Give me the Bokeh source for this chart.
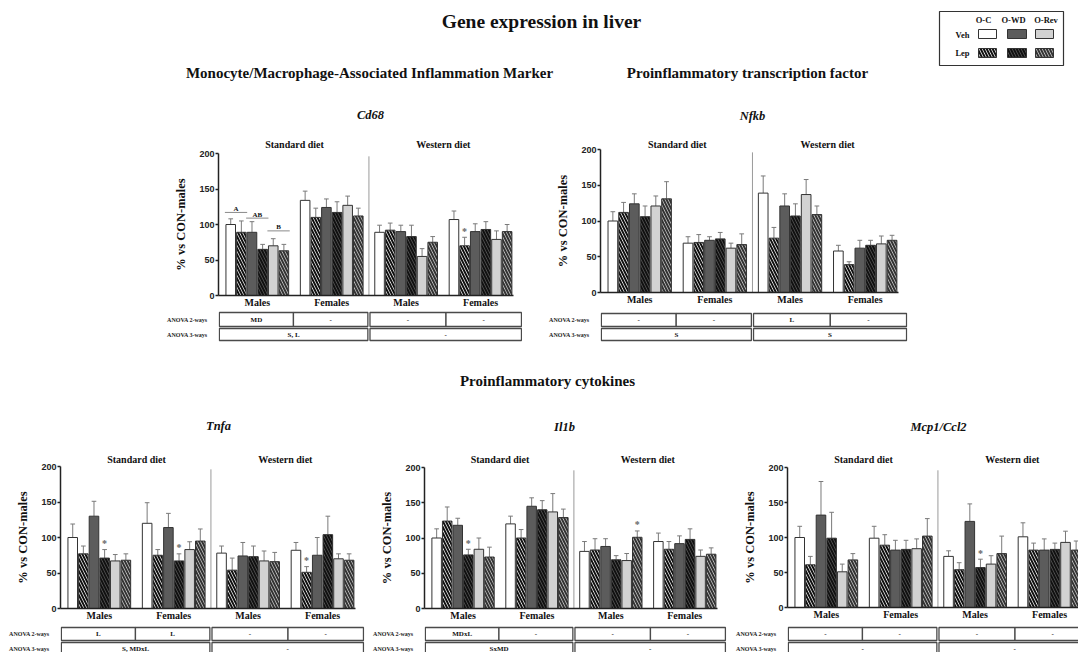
from bokeh.plotting import figure
from bokeh.layouts import row, column
from bokeh.models import Range1d, FixedTicker, Spacer, ColumnDataSource, LinearAxis
from bokeh.core.properties import value
from bokeh.embed import file_html
from bokeh.resources import INLINE

SERIF = "Liberation Serif"
SANS = "Liberation Sans"

# ---------------- data ----------------
sexes = ["Males", "Females", "Males", "Females"]
diets = ["Standard diet", "Western diet"]
strains = ["O-C", "O-WD", "O-Rev"]
treatments = ["Veh", "Lep"]
anova_rows = ["ANOVA 2-ways", "ANOVA 3-ways"]
y_ticks = [0, 50, 100, 150, 200]

# bar order inside each sex/diet group: O-C Veh, O-C Lep, O-WD Veh, O-WD Lep, O-Rev Veh, O-Rev Lep
# groups: SD Males, SD Females, WD Males, WD Females
cd68_mean = [100, 89, 89, 65, 70, 63,   134, 110, 124, 117, 127, 112,
             89, 92, 90, 83, 55, 75,    107, 70, 90, 93, 79, 90]
cd68_sem = [8, 16, 15, 7, 10, 9,        13, 13, 12, 15, 13, 11,
            10, 10, 9, 16, 11, 8,       12, 12, 11, 11, 12, 10]
cd68_stars = [19]
cd68_anova2 = ["MD", "-", "-", "-"]
cd68_anova3 = ["S, L", "-"]
cd68_letters = ["A", "AB", "B"]
cd68_letter_y = [117, 109, 91]
cd68_letter_bars = [(0, 1), (2, 3), (4, 5)]

nfkb_mean = [100, 112, 124, 106, 121, 131,  69, 70, 73, 75, 62, 67,
             139, 76, 121, 107, 137, 109,   58, 39, 62, 66, 68, 73]
nfkb_sem = [13, 14, 14, 15, 14, 24,    9, 11, 5, 9, 7, 15,
            24, 15, 17, 17, 21, 12,    8, 4, 11, 7, 11, 7]
nfkb_stars = []
nfkb_anova2 = ["-", "-", "L", "-"]
nfkb_anova3 = ["S", "S"]

tnfa_mean = [100, 77, 130, 71, 67, 68,   120, 75, 114, 67, 83, 95,
             78, 54, 74, 73, 67, 66,     82, 51, 75, 104, 70, 68]
tnfa_sem = [19, 11, 21, 12, 9, 9,       29, 8, 20, 10, 11, 17,
            10, 17, 19, 15, 14, 13,     11, 8, 25, 26, 7, 9]
tnfa_stars = [3, 9, 19]
tnfa_anova2 = ["L", "L", "-", "-"]
tnfa_anova3 = ["S, MDxL", "-"]

il1b_mean = [100, 124, 118, 76, 84, 73,   120, 100, 145, 140, 137, 129,
             81, 83, 88, 69, 68, 101,     95, 84, 92, 98, 74, 77]
il1b_sem = [13, 20, 10, 8, 16, 14,       11, 12, 12, 13, 26, 12,
            14, 16, 11, 6, 10, 9,        12, 11, 11, 15, 9, 9]
il1b_stars = [3, 17]
il1b_anova2 = ["MDxL", "-", "-", "-"]
il1b_anova3 = ["SxMD", "-"]

mcp1_mean = [100, 61, 132, 99, 51, 68,   99, 89, 82, 83, 84, 102,
             73, 54, 123, 57, 62, 77,    101, 82, 82, 83, 93, 82]
mcp1_sem = [16, 12, 48, 37, 11, 9,      17, 15, 14, 13, 14, 25,
            8, 10, 25, 12, 12, 25,      20, 10, 16, 9, 16, 13]
mcp1_stars = [15]
mcp1_anova2 = ["-", "-", "-", "-"]
mcp1_anova3 = ["-", "-"]

# ---------------- styling ----------------
WHITE, DARK, LIGHT = "#ffffff", "#5c5c5c", "#d2d2d2"
bar_fill = [WHITE, WHITE, DARK, DARK, LIGHT, LIGHT]
bar_hatch = [False, True, False, True, False, True]
hatch_col = ["#111111", "#111111", "#111111", "#111111", "#333333", "#333333"]
X0, X1, XE = -0.65, 27.1, 27.95
BB = 14    # bottom border of chart (category labels)


def txt(p, x, y, t, size, style="bold", align="center", font=SERIF, color="#111111", baseline="middle"):
    p.text(x=x, y=y, text=t, text_font=value(font), text_font_style=style,
           text_font_size=size, text_align=align, text_baseline=baseline, text_color=color)


def geometry(lay):
    L, W, tw = lay["L"], lay["W"], lay["tw"]
    scale = W / (X1 - X0)
    Wf = min(int(round((XE - X0) * scale)), tw - L)
    R = tw - L - Wf
    xend = X0 + Wf / scale
    return L, Wf, R, scale, xend


def top_border(lay):
    return (lay["y200"] - lay["diet"]) + 8


def heading(lay, gene):
    L, Wf, R, scale, xend = geometry(lay)
    top = lay["top"]
    hh = lay["y200"] - top_border(lay) - top
    f = figure(width=L + Wf + R, height=hh,
               x_range=Range1d(X0, xend), y_range=Range1d(hh, 0),
               output_backend="svg", toolbar_location=None, title=None,
               x_axis_location=None, y_axis_location=None,
               min_border_left=L, min_border_right=R, min_border_top=0, min_border_bottom=0)
    f.outline_line_color = None
    f.grid.grid_line_color = None
    axis_x = lay["left"] + L
    tx = (lay["title"][0] - axis_x) / scale + X0
    txt(f, [tx], [lay["title"][1] - top], [gene], "12.5px", style="bold italic")
    return f


def chart(lay, mean, sem, stars, letters=None, letter_y=None, letter_bars=None):
    L, Wf, R, scale, xend = geometry(lay)
    TB = top_border(lay)
    p = figure(width=L + Wf + R, height=lay["y0"] - lay["y200"] + TB + BB,
               x_range=Range1d(X0, xend), y_range=Range1d(0, 200),
               output_backend="svg", toolbar_location=None, title=None,
               min_border_left=L, min_border_right=R, min_border_top=TB, min_border_bottom=BB)
    p.outline_line_color = None
    p.xgrid.visible = False
    p.ygrid.visible = False

    xa = p.xaxis[0]
    centers = [g * 7 + 3 for g in range(4)]
    xa.ticker = FixedTicker(ticks=centers)
    xa.major_label_overrides = {c: sexes[g] for g, c in enumerate(centers)}
    xa.bounds = (X0, X1)
    xa.major_tick_line_color = None
    xa.minor_tick_line_color = None
    xa.major_tick_out = 0
    xa.major_tick_in = 0
    xa.axis_line_color = "#222222"
    xa.axis_line_width = 1.5
    xa.major_label_text_font = SERIF
    xa.major_label_text_font_style = "bold"
    xa.major_label_text_font_size = "10px"
    xa.major_label_text_color = "#111111"
    xa.major_label_standoff = 1

    # diet headers as a label-only axis above the frame
    diet_ticks = [6.5, 20.5]
    ta = LinearAxis(ticker=FixedTicker(ticks=diet_ticks),
                    major_label_overrides={diet_ticks[0]: diets[0], diet_ticks[1]: diets[1]},
                    axis_line_color=None, major_tick_line_color=None, minor_tick_line_color=None,
                    major_tick_out=0, major_tick_in=0,
                    major_label_standoff=max(0, (lay["y200"] - lay["diet"]) - 8),
                    major_label_text_font=SERIF, major_label_text_font_style="bold",
                    major_label_text_font_size="10px", major_label_text_color="#111111")
    p.add_layout(ta, "above")

    ya = p.yaxis[0]
    ya.ticker = FixedTicker(ticks=y_ticks)
    ya.bounds = (0, 200)
    ya.minor_tick_line_color = None
    ya.major_tick_out = 3
    ya.major_tick_in = 0
    ya.major_tick_line_color = "#222222"
    ya.major_tick_line_width = 1.5
    ya.axis_line_color = "#222222"
    ya.axis_line_width = 1.5
    ya.major_label_standoff = 1
    ya.major_label_text_font = SANS
    ya.major_label_text_font_style = "bold"
    ya.major_label_text_font_size = "9px"
    ya.major_label_text_color = "#222222"
    ya.axis_label = "% vs CON-males"
    ya.axis_label_text_font = SERIF
    ya.axis_label_text_font_style = "bold"
    ya.axis_label_text_font_size = "12.5px"
    ya.axis_label_text_color = "#111111"
    ya.axis_label_standoff = 8

    xs = [(i // 6) * 7 + i % 6 + 0.5 for i in range(24)]
    err = [m + e for m, e in zip(mean, sem)]
    plain = [i for i in range(24) if not bar_hatch[i % 6]]
    hat = [i for i in range(24) if bar_hatch[i % 6]]

    # separator between diets
    p.segment(x0=[13.5], y0=[0], x1=[13.5], y1=[196], line_color="#9a9a9a", line_width=1)

    # error bars (upper only)
    esrc = ColumnDataSource(dict(x=xs, top=mean, err=err,
                                 xl=[x - 0.22 for x in xs], xr=[x + 0.22 for x in xs]))
    p.segment(x0="x", y0="top", x1="x", y1="err", source=esrc, line_color="#7a7a7a", line_width=1)
    p.segment(x0="xl", y0="err", x1="xr", y1="err", source=esrc, line_color="#7a7a7a", line_width=1)

    src_p = ColumnDataSource(dict(x=[xs[i] for i in plain], top=[mean[i] for i in plain],
                                  fill=[bar_fill[i % 6] for i in plain]))
    p.vbar(x="x", top="top", bottom=0, width=0.9, fill_color="fill", line_color="#333333",
           line_width=1, source=src_p)
    src_h = ColumnDataSource(dict(x=[xs[i] for i in hat], top=[mean[i] for i in hat],
                                  fill=[bar_fill[i % 6] for i in hat],
                                  hc=[hatch_col[i % 6] for i in hat]))
    p.vbar(x="x", top="top", bottom=0, width=0.9, fill_color="fill", line_color="#333333",
           line_width=1, hatch_pattern="\\", hatch_color="hc", hatch_scale=6, hatch_weight=2,
           source=src_h)

    # significance stars
    if stars:
        txt(p, [xs[i] for i in stars], [err[i] + 1 for i in stars], ["*"] * len(stars),
            "10px", color="#666666", baseline="bottom")

    # letters
    if letters:
        p.segment(x0=[a - 0.05 for a, b in letter_bars], x1=[b + 1.05 for a, b in letter_bars],
                  y0=letter_y, y1=letter_y, line_color="#8a8a8a", line_width=1)
        txt(p, [(a + b + 1) / 2 for a, b in letter_bars], [y + 5 for y in letter_y], letters, "7px")
    return p


def table(lay, a2, a3):
    L, Wf, R, scale, xend = geometry(lay)
    tt = lay["y0"] + BB
    th = lay["bottom"] - tt
    t = figure(width=L + Wf + R, height=th,
               x_range=Range1d(X0, xend), y_range=Range1d(th, 0),
               output_backend="svg", toolbar_location=None, title=None,
               x_axis_location=None,
               min_border_left=L, min_border_right=R, min_border_top=0, min_border_bottom=0)
    t.outline_line_color = None
    t.grid.grid_line_color = None
    r2t, r2b = lay["r2"][0] - tt, lay["r2"][1] - tt
    r3t, r3b = lay["r3"][0] - tt, lay["r3"][1] - tt
    yc = [(r2t + r2b) / 2, (r3t + r3b) / 2]

    ya = t.yaxis[0]
    ya.ticker = FixedTicker(ticks=yc)
    ya.major_label_overrides = {yc[0]: anova_rows[0], yc[1]: anova_rows[1]}
    ya.axis_line_color = None
    ya.major_tick_line_color = None
    ya.minor_tick_line_color = None
    ya.major_tick_out = 0
    ya.major_tick_in = 0
    ya.major_label_standoff = 11
    ya.major_label_text_font = SERIF
    ya.major_label_text_font_style = "bold"
    ya.major_label_text_font_size = "6px"
    ya.major_label_text_color = "#222222"

    l2 = [-0.57, 6.4, 13.6, 20.75]
    rr2 = [6.4, 13.4, 20.75, 27.85]
    t.quad(left=l2, right=rr2, top=[r2t] * 4, bottom=[r2b] * 4, fill_color="white",
           line_color="#4a4a4a", line_width=1.3)
    l3 = [-0.57, 13.6]
    rr3 = [13.4, 27.85]
    t.quad(left=l3, right=rr3, top=[r3t] * 2, bottom=[r3b] * 2, fill_color="white",
           line_color="#4a4a4a", line_width=1.3)
    txt(t, [(a + b) / 2 for a, b in zip(l2, rr2)], [yc[0]] * 4, a2, "7px")
    txt(t, [(a + b) / 2 for a, b in zip(l3, rr3)], [yc[1]] * 2, a3, "7px")
    return t


def panel(lay, gene, mean, sem, stars, a2, a3, **kw):
    hd = heading(lay, gene)
    p = chart(lay, mean, sem, stars, **kw)
    t = table(lay, a2, a3)
    return column(hd, p, t)


lay_cd68 = dict(left=150, tw=372, L=68, W=295, top=100, y0=296, y200=153, title=(370, 114),
                diet=141, r2=(312, 326), r3=(328, 340), bottom=345)
lay_nfkb = dict(left=532, tw=378, L=68, W=298, top=100, y0=293, y200=149, title=(752, 115),
                diet=141, r2=(313, 326), r3=(328, 340), bottom=345)
lay_tnfa = dict(left=0, tw=365, L=60, W=295, top=400, y0=609, y200=466, title=(218, 425),
                diet=456, r2=(627, 640), r3=(642, 655), bottom=652)
lay_il1b = dict(left=365, tw=365, L=59, W=293, top=400, y0=609, y200=467, title=(564, 426),
                diet=456, r2=(627, 640), r3=(642, 655), bottom=652)
lay_mcp1 = dict(left=730, tw=348, L=57, W=295, top=400, y0=608, y200=467,
                title=(938, 426), diet=456, r2=(627, 640), r3=(642, 655), bottom=652)

c_cd68 = panel(lay_cd68, "Cd68", cd68_mean, cd68_sem, cd68_stars, cd68_anova2, cd68_anova3,
               letters=cd68_letters, letter_y=cd68_letter_y, letter_bars=cd68_letter_bars)
c_nfkb = panel(lay_nfkb, "Nfkb", nfkb_mean, nfkb_sem, nfkb_stars, nfkb_anova2, nfkb_anova3)
c_tnfa = panel(lay_tnfa, "Tnfa", tnfa_mean, tnfa_sem, tnfa_stars, tnfa_anova2, tnfa_anova3)
c_il1b = panel(lay_il1b, "Il1b", il1b_mean, il1b_sem, il1b_stars, il1b_anova2, il1b_anova3)
c_mcp1 = panel(lay_mcp1, "Mcp1/Ccl2", mcp1_mean, mcp1_sem, mcp1_stars, mcp1_anova2, mcp1_anova3)

# ---------------- header ----------------
h = figure(width=1078, height=100, x_range=Range1d(0, 1078), y_range=Range1d(100, 0),
           output_backend="svg", toolbar_location=None, title=None,
           x_axis_location=None, y_axis_location=None, min_border=0)
h.outline_line_color = None
h.grid.grid_line_color = None
txt(h, [541], [21], ["Gene expression in liver"], "19.5px")
txt(h, [369, 747], [72, 72], ["Monocyte/Macrophage-Associated Inflammation Marker",
                              "Proinflammatory transcription factor"], "15px")
# legend
h.quad(left=[939], right=[1063], top=[11], bottom=[65], fill_color="white",
       line_color="#333333", line_width=1.2)
sw_l = [978, 1007, 1035]
sw_r = [996, 1026, 1053]
txt(h, [983, 1013, 1045.5], [19.5] * 3, strains, "8.5px")
txt(h, [962, 962], [34, 52.5], treatments, "8.5px")
h.quad(left=sw_l, right=sw_r, top=[29] * 3, bottom=[38] * 3,
       fill_color=[WHITE, DARK, LIGHT], line_color="#333333", line_width=1)
h.quad(left=sw_l, right=sw_r, top=[48] * 3, bottom=[57] * 3,
       fill_color=[WHITE, DARK, LIGHT], line_color="#333333", line_width=1,
       hatch_pattern="\\", hatch_color=["#111111", "#111111", "#333333"],
       hatch_scale=6, hatch_weight=2)

mid = figure(width=1078, height=55, x_range=Range1d(0, 1078), y_range=Range1d(55, 0),
             output_backend="svg", toolbar_location=None, title=None,
             x_axis_location=None, y_axis_location=None, min_border=0)
mid.outline_line_color = None
mid.grid.grid_line_color = None
txt(mid, [547], [35], ["Proinflammatory cytokines"], "15px")

row1 = row(Spacer(width=150, height=245), c_cd68, Spacer(width=10, height=245), c_nfkb,
           Spacer(width=168, height=245))
row2 = row(c_tnfa, c_il1b, c_mcp1)
page = column(h, row1, mid, row2)

open("out.html", "w").write(file_html(page, INLINE))
